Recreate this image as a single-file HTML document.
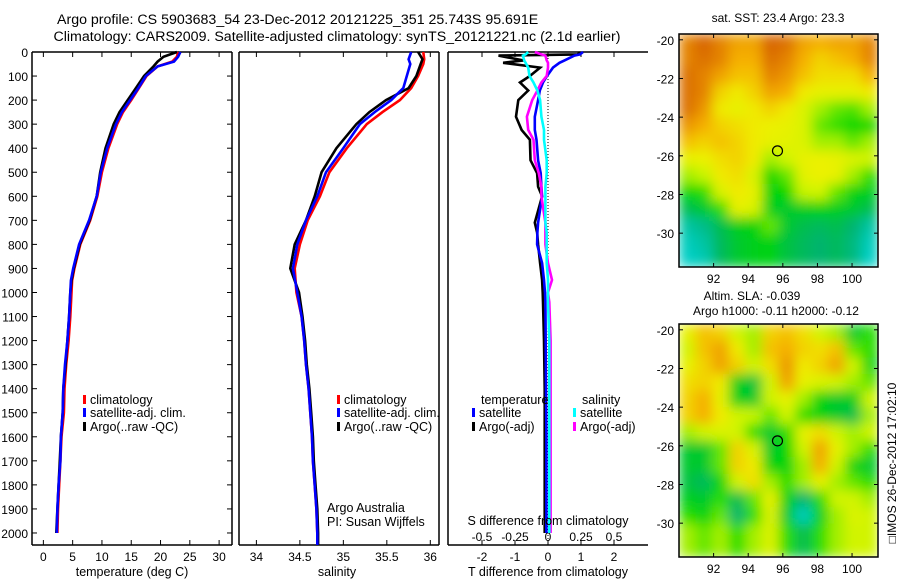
<!DOCTYPE html>
<html><head><meta charset="utf-8"><style>
body{margin:0;background:#fff;}
svg{display:block;font-family:"Liberation Sans",sans-serif;}
text{fill:#000;}
</style></head><body>
<svg id="fig" width="900" height="580" viewBox="0 0 900 580">
<defs>
<filter id="blur" x="0" y="0" width="1" height="1"><feGaussianBlur stdDeviation="6"/></filter>
<clipPath id="clipMap1"><rect x="679" y="34" width="199" height="233"/></clipPath>
<clipPath id="clipMap2"><rect x="679" y="324" width="199" height="233"/></clipPath>
</defs>
<text x="57" y="24" font-size="14.2" text-anchor="start">Argo profile: CS 5903683_54 23-Dec-2012 20121225_351 25.743S 95.691E</text>
<text x="337" y="41" font-size="14.2" text-anchor="middle">Climatology: CARS2009. Satellite-adjusted climatology: synTS_20121221.nc (2.1d earlier)</text>
<g id="layer"></g>
<text x="778" y="22" font-size="12" text-anchor="middle">sat. SST: 23.4 Argo: 23.3</text>
<text x="752" y="300" font-size="12" text-anchor="middle">Altim. SLA: -0.039</text>
<text x="776" y="315" font-size="12" text-anchor="middle">Argo h1000: -0.11 h2000: -0.12</text>
<text transform="translate(896,463) rotate(-90)" font-size="12" text-anchor="middle">□IMOS 26-Dec-2012 17:02:10</text>
</svg>
<script>
// ---- profile data ----
const tDepth = [0,20,40,60,100,150,200,250,300,400,500,600,700,800,900,950,1000,1100,1200,1300,1400,1500,1600,1700,1800,1900,2000];
const tClim  = [23.0,22.8,22.0,19.5,17.6,16.3,15.0,13.6,12.6,11.1,10.0,9.2,8.0,6.3,5.3,4.9,4.8,4.6,4.3,3.9,3.6,3.5,3.1,2.9,2.7,2.5,2.4];
const tSat   = [23.4,23.0,22.3,19.5,17.5,16.2,14.8,13.4,12.4,10.9,9.8,9.1,7.8,6.1,5.1,4.7,4.6,4.4,4.1,3.7,3.4,3.3,3.0,2.9,2.6,2.4,2.3];
const tArgo  = [22.8,20.5,19.5,18.8,17.2,15.8,14.4,13.0,12.0,10.6,9.7,9.1,7.9,6.2,5.2,4.8,4.6,4.4,4.1,3.8,3.4,3.3,3.0,2.8,2.6,2.4,2.2];
const sDepth = [0,30,50,100,150,200,250,300,400,500,600,700,800,900,1000,1100,1200,1300,1400,1500,1600,1700,1800,1900,2000,2050];
const sClim  = [35.92,35.93,35.92,35.86,35.78,35.65,35.45,35.27,35.04,34.84,34.73,34.59,34.50,34.44,34.46,34.52,34.55,34.57,34.60,34.62,34.64,34.65,34.67,34.69,34.70,34.70];
const sSat   = [35.78,35.75,35.77,35.73,35.69,35.55,35.36,35.19,35.00,34.80,34.70,34.57,34.47,34.42,34.47,34.52,34.55,34.57,34.60,34.62,34.64,34.65,34.67,34.69,34.70,34.70];
const sArgo  = [35.86,35.91,35.89,35.84,35.75,35.49,35.30,35.15,34.92,34.75,34.67,34.57,34.44,34.39,34.49,34.53,34.56,34.58,34.61,34.63,34.65,34.66,34.68,34.70,34.71,34.71];
const dDepth    = [0,10,15,35,45,65,100,127,160,200,269,324,365,450,504,560,600,710,750,800,878,948,1000,1040,1200,1400,1600,1800,2000];
const dTSat     = [1.06,0.97,0.8,0.5,0.35,0.15,-0.03,-0.15,-0.25,-0.3,-0.4,-0.4,-0.35,-0.3,-0.22,-0.2,-0.18,-0.3,-0.32,-0.33,-0.18,-0.12,-0.09,-0.08,-0.07,-0.06,-0.05,-0.05,-0.05];
const dTArgo    = [0.97,0.9,-1.5,-0.75,-1.36,-0.24,-0.55,-0.85,-0.6,-0.9,-0.97,-0.8,-0.55,-0.53,-0.33,-0.3,-0.18,-0.4,-0.33,-0.3,-0.24,-0.18,-0.16,-0.15,-0.12,-0.1,-0.1,-0.1,-0.1];
const dSSat     = [-0.15,-0.17,-0.19,-0.18,-0.17,-0.15,-0.14,-0.11,-0.08,-0.06,-0.05,-0.03,-0.03,-0.01,-0.01,-0.02,-0.02,-0.02,-0.01,-0.01,-0.01,0.0,0.0,0.0,0.01,0.01,0.01,0.01,0.01];
const dSArgo    = [-0.1,-0.05,-0.02,-0.01,0.0,0.0,-0.01,-0.05,-0.08,-0.12,-0.16,-0.15,-0.11,-0.1,-0.07,-0.05,-0.05,-0.02,-0.02,-0.02,0.0,0.03,0.0,0.01,0.02,0.02,0.02,0.02,0.02];
const depthTicks = [0,100,200,300,400,500,600,700,800,900,1000,1100,1200,1300,1400,1500,1600,1700,1800,1900,2000];
const tTicks = [0,5,10,15,20,25,30];
const sTicks = [34,34.5,35,35.5,36];
const dTTicks = [-2,-1,0,1,2];
const dSTicks = [-0.5,-0.25,0,0.25,0.5];
const lonTicks = [92,94,96,98,100];
const latTicks = [-20,-22,-24,-26,-28,-30];
// ---- map data (coarse grids, 12 lon x 14 lat, normalized colour value) ----
const sstGrid = [
[.85,.9,.85,.8,.8,.9,.88,.8,.78,.8,.8,.85],
[.85,.88,.85,.78,.78,.88,.85,.78,.72,.75,.78,.85],
[.88,.85,.8,.75,.75,.85,.82,.75,.7,.7,.7,.78],
[.88,.85,.72,.68,.72,.8,.78,.68,.65,.65,.65,.68],
[.88,.82,.68,.65,.68,.72,.68,.62,.55,.5,.48,.55],
[.82,.78,.72,.7,.68,.66,.65,.62,.5,.46,.42,.42],
[.75,.72,.75,.72,.68,.65,.64,.62,.55,.55,.5,.55],
[.65,.66,.7,.72,.68,.55,.6,.65,.66,.65,.62,.6],
[.55,.58,.68,.7,.62,.42,.5,.64,.66,.65,.55,.45],
[.42,.45,.62,.68,.65,.4,.42,.58,.6,.5,.4,.38],
[.3,.35,.45,.65,.62,.38,.35,.38,.4,.38,.35,.3],
[.15,.2,.3,.38,.4,.5,.35,.3,.28,.3,.25,.15],
[.1,.15,.28,.35,.38,.4,.32,.28,.25,.28,.22,.1],
[.08,.12,.28,.35,.38,.4,.32,.28,.25,.28,.22,.08]];
const slaGrid = [
[.65,.75,.72,.6,.55,.72,.75,.7,.6,.55,.35,.45],
[.6,.75,.8,.68,.55,.75,.78,.72,.7,.75,.5,.45],
[.65,.72,.8,.72,.6,.7,.82,.68,.72,.8,.6,.4],
[.7,.72,.68,.38,.32,.6,.8,.65,.62,.6,.55,.5],
[.72,.78,.65,.38,.35,.6,.65,.55,.4,.35,.38,.6],
[.72,.78,.68,.6,.58,.5,.6,.45,.4,.35,.3,.55],
[.55,.6,.62,.6,.45,.35,.45,.65,.7,.6,.55,.6],
[.35,.35,.5,.72,.62,.35,.42,.6,.8,.65,.55,.45],
[.35,.35,.5,.72,.68,.4,.4,.55,.78,.6,.4,.35],
[.32,.28,.4,.6,.7,.55,.45,.55,.65,.55,.5,.45],
[.38,.35,.45,.3,.5,.65,.4,.25,.45,.6,.6,.55],
[.45,.4,.5,.25,.45,.62,.35,.1,.38,.55,.62,.6],
[.55,.5,.55,.45,.55,.62,.45,.3,.45,.55,.6,.6],
[.55,.5,.55,.45,.55,.62,.45,.3,.45,.55,.6,.6]];
const argoLon = 95.691, argoLat = -25.743;

const NS = "http://www.w3.org/2000/svg";
const layer = document.getElementById('layer');
function mk(tag, attrs, parent){const e=document.createElementNS(NS,tag);for(const k in attrs)e.setAttribute(k,attrs[k]);(parent||layer).appendChild(e);return e;}
function txt(x,y,s,size,anchor,parent){const e=mk('text',{x:x,y:y,'font-size':size,'text-anchor':anchor||'start'},parent);e.textContent=s;return e;}
const Y0=52, Y1=545, DMAX=2050;
const yD = d => Y0 + d/DMAX*(Y1-Y0);
const xT = t => 32 + (t+1.94)/(32.2+1.94)*200;
const xS = s => 239 + (s-33.8)/(36.1-33.8)*200;
const xDT = t => 548 + t*33;
const xDS = s => 548 + s*132;

function frame(x0,x1,name,right){
  const g=mk('g',{});
  
  
  mk('line',{x1:x0,y1:Y0,x2:x1,y2:Y0,stroke:'#000','stroke-width':1.5},g);
  mk('line',{x1:x0,y1:Y1,x2:x1,y2:Y1,stroke:'#000','stroke-width':1.5},g);
  mk('line',{x1:x0,y1:Y0,x2:x0,y2:Y1,stroke:'#000','stroke-width':1.5},g);
  if(right) mk('line',{x1:x1,y1:Y0,x2:x1,y2:Y1,stroke:'#000','stroke-width':1.5},g);
  return g;
}
const f1=frame(32,232,'temperature-panel',true);
const f2=frame(239,439,'salinity-panel',true);
const f3=frame(448,648,'difference-panel',false);
depthTicks.forEach(d=>{
  const y=yD(d);
  mk('line',{x1:32,y1:y,x2:37,y2:y,stroke:'#000'},f1);
  mk('line',{x1:227,y1:y,x2:232,y2:y,stroke:'#000'},f1);
  const t=txt(28,y+5,String(d),12,'end');
  
  
});
function xticks(ticks,fx,g,labelY){
  ticks.forEach(v=>{const x=fx(v);
    mk('line',{x1:x,y1:Y1,x2:x,y2:Y1-5,stroke:'#000'},g);
    mk('line',{x1:x,y1:Y0,x2:x,y2:Y0+5,stroke:'#000'},g);
    if(labelY){const t=txt(x,labelY,String(v),12,'middle');
      
      }
  });
}
xticks(tTicks,xT,f1,561);
xticks(sTicks,xS,f2,561);
xticks(dTTicks,xDT,f3,561);
dSTicks.forEach(v=>{const t=txt(xDS(v),541,String(v),12,'middle');
  
  });
mk('line',{x1:548,y1:Y0,x2:548,y2:Y1,stroke:'#000','stroke-dasharray':'1,2'},f3);

function series(depths,vals,fx,color,name){
  const pts=depths.map((d,i)=>fx(vals[i]).toFixed(1)+','+yD(d).toFixed(1)).join(' ');
  const p=mk('polyline',{points:pts,fill:'none',stroke:color,'stroke-width':2.6,'stroke-linejoin':'miter'});
  
  
}
series(tDepth,tClim,xT,'#ff0000','temp-climatology-line');
series(tDepth,tArgo,xT,'#000000','temp-argo-line');
series(tDepth,tSat,xT,'#0000ff','temp-satellite-line');
series(sDepth,sClim,xS,'#ff0000','sal-climatology-line');
series(sDepth,sArgo,xS,'#000000','sal-argo-line');
series(sDepth,sSat,xS,'#0000ff','sal-satellite-line');
series(dDepth,dTArgo,xDT,'#000000','tdiff-argo-line');
series(dDepth,dTSat,xDT,'#0000ff','tdiff-satellite-line');
series(dDepth,dSArgo,xDS,'#ff00ff','sdiff-argo-line');
series(dDepth,dSSat,xDS,'#00ffff','sdiff-satellite-line');

function legendItem(x,y,color,label){
  const g=mk('g',{});
  
  
  mk('rect',{x:x,y:y-9,width:3,height:9,fill:color},g);
  txt(x+7,y,label,12.5,'start',g);
}
legendItem(83,404,'#ff0000','climatology');
legendItem(83,417,'#0000ff','satellite-adj. clim.');
legendItem(83,431,'#000000','Argo(..raw -QC)');
legendItem(337,404,'#ff0000','climatology');
legendItem(337,417,'#0000ff','satellite-adj. clim.');
legendItem(337,431,'#000000','Argo(..raw -QC)');
txt(481,404,'temperature',12.5);
legendItem(472,417,'#0000ff','satellite');
legendItem(472,431,'#000000','Argo(-adj)');
txt(582,404,'salinity',12.5);
legendItem(573,417,'#00ffff','satellite');
legendItem(573,431,'#ff00ff','Argo(-adj)');
txt(327,512,'Argo Australia',12.5);
txt(327,526,'PI: Susan Wijffels',12.5);
txt(548,525,'S difference from climatology',12.5,'middle');
[[132,'temperature (deg C)'],[337,'salinity'],[548,'T difference from climatology']].forEach(a=>{
  const t=txt(a[0],576,a[1],12.5,'middle');
  
  
});

function col(v){
  const stops=[[0,[0,220,240]],[0.25,[0,180,110]],[0.42,[0,215,0]],[0.58,[200,245,0]],[0.67,[240,240,0]],[0.78,[245,175,0]],[0.9,[215,100,0]],[1,[190,80,0]]];
  for(let i=1;i<stops.length;i++){if(v<=stops[i][0]){const a=stops[i-1],b=stops[i],f=(v-a[0])/(b[0]-a[0]);
    return 'rgb('+a[1].map((c,k)=>Math.round(c+(b[1][k]-c)*f)).join(',')+')';}}
  return 'rgb(190,80,0)';
}
function drawMap(grid,top,clipId,name){
  const X0=679,W=199,H=233,LON0=90,LON1=101.5,LAT0=-19.7,LAT1=-31.75;
  const xl=lon=>X0+(lon-LON0)/(LON1-LON0)*W, yl=lat=>top+(lat-LAT0)/(LAT1-LAT0)*H;
  const g=mk('g',{'clip-path':'url(#'+clipId+')'});
  
  
  const inner=mk('g',{filter:'url(#blur)'},g);
  mk('rect',{x:X0,y:top,width:W,height:H,fill:col(0.6)},inner);
  const nr=grid.length,nc=grid[0].length,cw=W/nc,ch=H/nr;
  grid.forEach((row,r)=>row.forEach((v,c)=>{
    const cell=mk('rect',{x:(X0+c*cw).toFixed(1),y:(top+r*ch).toFixed(1),width:(cw+0.5).toFixed(1),height:(ch+0.5).toFixed(1),fill:col(v)},inner);
    
    
  }));
  mk('rect',{x:X0,y:top,width:W,height:H,fill:'none',stroke:'#000','stroke-width':1.5});
  const m=mk('circle',{cx:xl(argoLon),cy:yl(argoLat),r:5,fill:'none',stroke:'#000','stroke-width':1.2});
  
  
  lonTicks.forEach(v=>{const x=xl(v);
    mk('line',{x1:x,y1:top+H,x2:x,y2:top+H-4,stroke:'#000'});
    mk('line',{x1:x,y1:top,x2:x,y2:top+4,stroke:'#000'});
    txt(x,top+H+16,String(v),12,'middle');});
  latTicks.forEach(v=>{const y=yl(v);
    mk('line',{x1:X0,y1:y,x2:X0+4,y2:y,stroke:'#000'});
    mk('line',{x1:X0+W,y1:y,x2:X0+W-4,y2:y,stroke:'#000'});
    txt(X0-5,y+5,String(v),12,'end');});
}
drawMap(sstGrid,34,'clipMap1','sst-map');
drawMap(slaGrid,324,'clipMap2','sla-map');
</script>
</body></html>
